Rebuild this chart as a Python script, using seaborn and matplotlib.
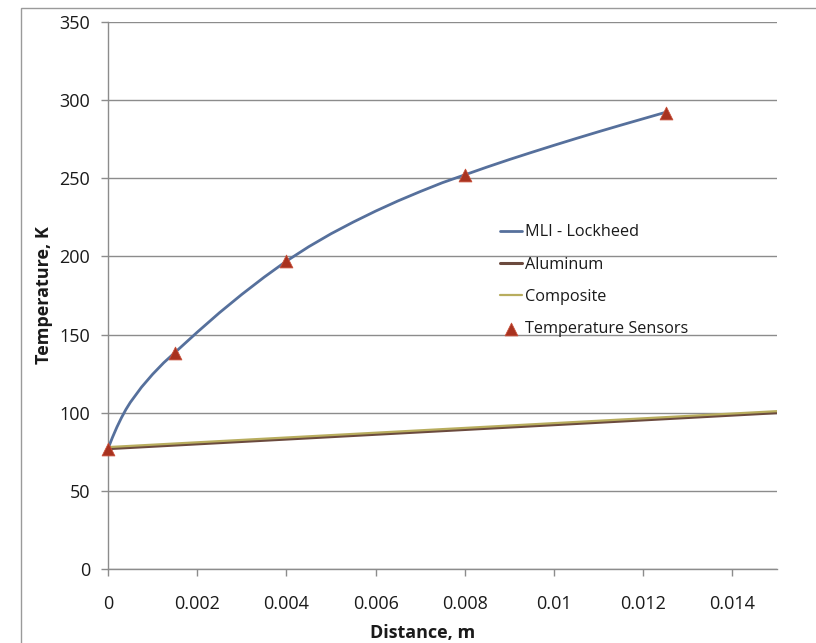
import matplotlib
matplotlib.use("Agg")
import matplotlib.pyplot as plt
from matplotlib.patches import Rectangle
import seaborn as sns
import pandas as pd

# MLI temperature profile through the blanket thickness
mli_x = [0, 0.0001, 0.0002, 0.0003, 0.0004, 0.0005, 0.00075, 0.001, 0.00125,
         0.0015, 0.002, 0.0025, 0.003, 0.0035, 0.004, 0.0045, 0.005, 0.0055,
         0.006, 0.0065, 0.007, 0.0075, 0.008, 0.0085, 0.009, 0.0095, 0.010,
         0.0105, 0.011, 0.0115, 0.012, 0.0125]
mli_t = [77, 84.2, 90.8, 96.7, 102, 106.6, 116.3, 124.6, 132,
         138.5, 151.5, 164, 175.7, 186.7, 197, 206.2, 214.5, 222,
         229, 235.5, 241.5, 247.2, 252.2, 257.2, 262, 266.6, 271.1,
         275.5, 279.8, 284, 288.1, 292.2]

# Solid-wall profiles
al_x = [0, 0.015]
al_t = [77, 100]
comp_x = [0, 0.015]
comp_t = [78, 101]

# Measured sensor readings
sensor_x = [0, 0.0015, 0.004, 0.008, 0.0125]
sensor_t = [77, 138, 197, 252, 292]

x_ticks = [0, 0.002, 0.004, 0.006, 0.008, 0.01, 0.012, 0.014]
x_tick_labels = ["0", "0.002", "0.004", "0.006", "0.008", "0.01", "0.012", "0.014"]
y_ticks = [0, 50, 100, 150, 200, 250, 300, 350]

sns.set_theme(style="white")
plt.rcParams["font.family"] = ["Open Sans", "DejaVu Sans"]

fig = plt.figure(figsize=(8.16, 6.43), dpi=100)
ax = fig.add_axes([108 / 816, 1 - 569 / 643, (777 - 108) / 816, (569 - 22) / 643])

# chart-area border
fig.patches.append(Rectangle((21 / 816, -0.05), 1.2, 1 - 8 / 643 + 0.05,
                             transform=fig.transFigure, fill=False,
                             edgecolor="#9a9a9a", linewidth=1.0, zorder=0))

df_mli = pd.DataFrame({"x": mli_x, "t": mli_t})
df_al = pd.DataFrame({"x": al_x, "t": al_t})
df_comp = pd.DataFrame({"x": comp_x, "t": comp_t})
df_sens = pd.DataFrame({"x": sensor_x, "t": sensor_t})

sns.lineplot(data=df_mli, x="x", y="t", ax=ax, color="#56709c", linewidth=2.0,
             label="MLI - Lockheed", zorder=3)
sns.lineplot(data=df_al, x="x", y="t", ax=ax, color="#6b4a3e", linewidth=2.2,
             label="Aluminum", zorder=3)
sns.lineplot(data=df_comp, x="x", y="t", ax=ax, color="#b8ad5e", linewidth=1.6,
             label="Composite", zorder=3)
sns.scatterplot(data=df_sens, x="x", y="t", ax=ax, marker="^", s=85,
                color="#a8321f", edgecolor="#c8503a", linewidth=0.6,
                label="Temperature Sensors", zorder=4, clip_on=False)

ax.set_xlim(0, 0.015)
ax.set_ylim(0, 350)
ax.set_xticks(x_ticks)
ax.set_xticklabels(x_tick_labels)
ax.set_yticks(y_ticks)
ax.yaxis.grid(True, color="#8c8c8c", linewidth=1.0)
ax.xaxis.grid(False)
ax.set_axisbelow(True)

for side in ["top", "right"]:
    ax.spines[side].set_visible(False)
for side in ["left", "bottom"]:
    ax.spines[side].set_color("#8c8c8c")
    ax.spines[side].set_linewidth(1.0)

ax.tick_params(axis="both", which="major", direction="out", length=5,
               width=1, color="#8c8c8c", labelsize=13, labelcolor="#1a1a1a",
               bottom=True, left=True)
ax.tick_params(axis="x", pad=14)
ax.tick_params(axis="y", pad=8)

ax.set_xlabel("Distance, m", fontsize=13, fontweight="bold", color="#1a1a1a")
ax.set_ylabel("Temperature, K", fontsize=13, fontweight="bold", color="#1a1a1a")
ax.xaxis.set_label_coords(0.47, -0.10)
ax.yaxis.set_label_coords(-0.082, 0.5)

leg = ax.legend(loc="upper left", bbox_to_anchor=(0.576, 0.642), frameon=False,
                fontsize=11.7, handlelength=1.35, handletextpad=0.2,
                labelspacing=1.0, borderaxespad=0)
for txt in leg.get_texts():
    txt.set_color("#1a1a1a")

fig.savefig("out.png", dpi=100, facecolor="white")
